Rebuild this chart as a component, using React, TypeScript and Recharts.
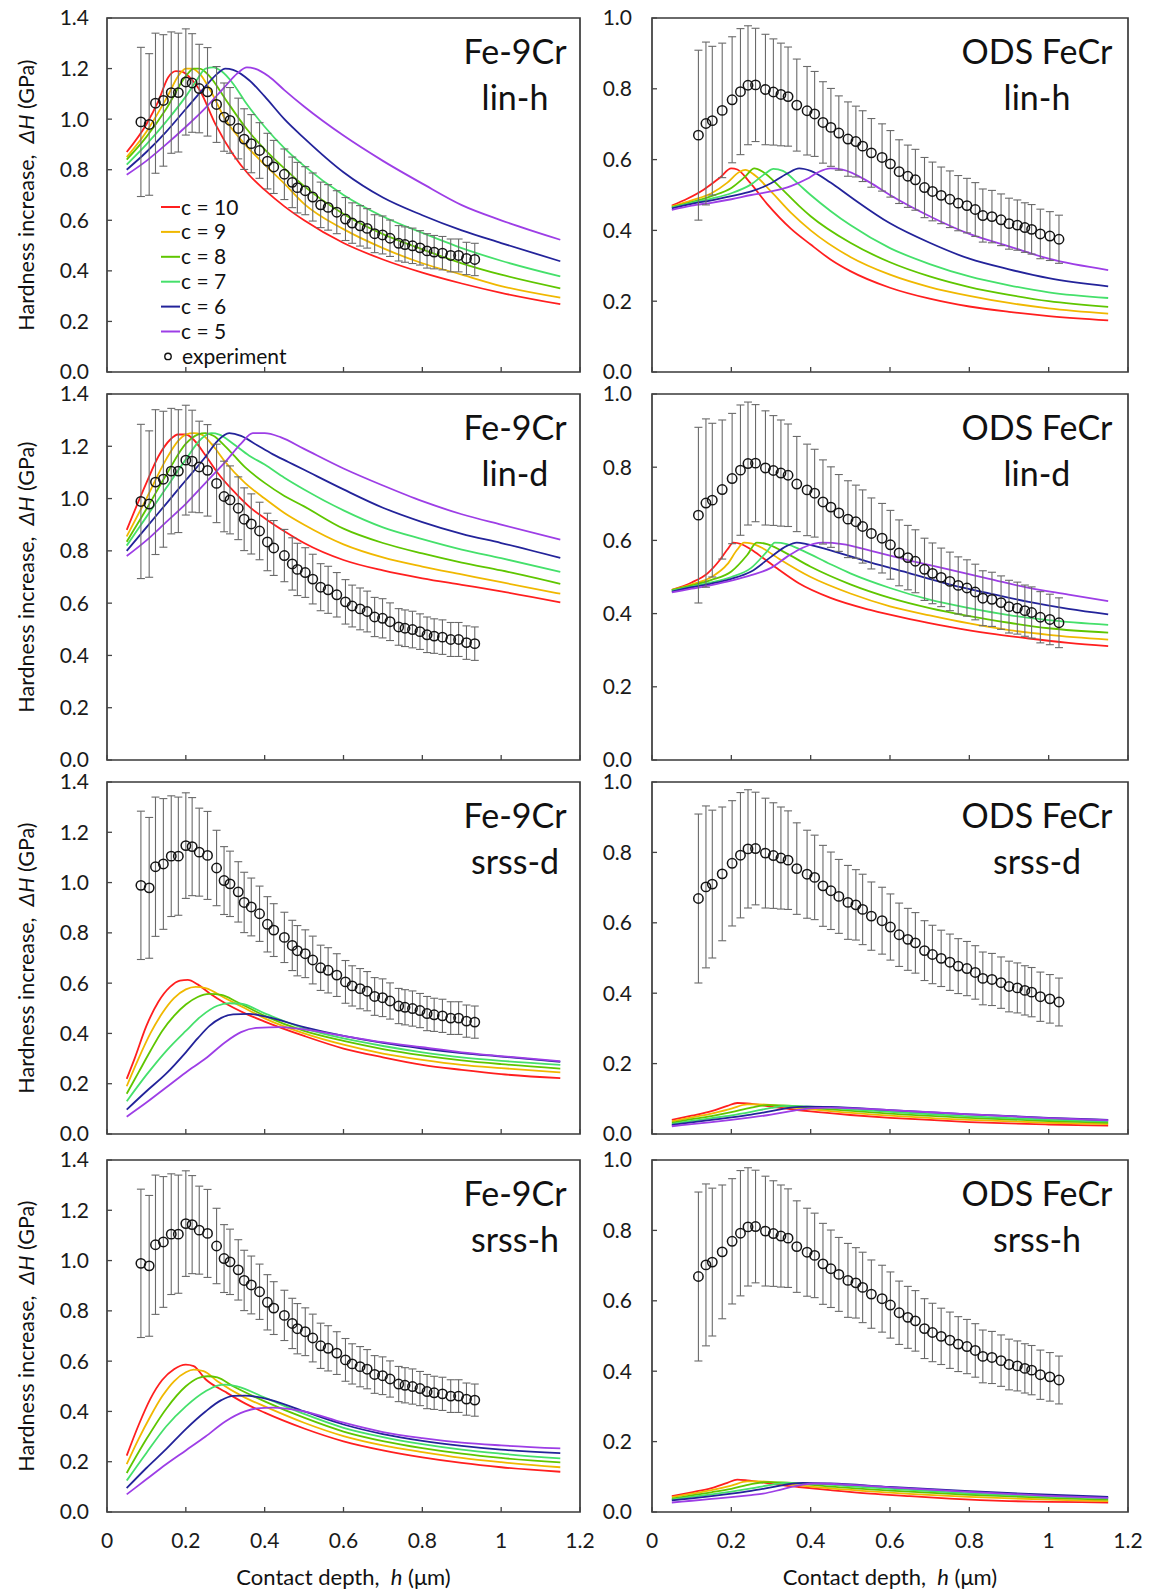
import React from 'react';
import { ComposedChart, Line, Scatter, XAxis, YAxis, ErrorBar, ReferenceArea, Legend } from 'recharts';

type Pt = [number, number];

const FONT = 'Lato, "Open Sans", sans-serif';

const X_TICKS = [0, 0.2, 0.4, 0.6, 0.8, 1, 1.2];
const Y_TICKS_FE = [0, 0.2, 0.4, 0.6, 0.8, 1.0, 1.2, 1.4];
const Y_TICKS_ODS = [0, 0.2, 0.4, 0.6, 0.8, 1.0];
const C_LABELS = ['c = 10', 'c = 9', 'c = 8', 'c = 7', 'c = 6', 'c = 5'];
const C_COLORS = ['#ff1f1f', '#f0b800', '#5fc600', '#45e06b', '#23239a', '#9d3ee6'];

// ---------- experiment: Fe-9Cr ----------
const FE_EXP_X = [0.086, 0.107, 0.123, 0.143, 0.163, 0.181, 0.2, 0.216, 0.234, 0.255, 0.278, 0.297, 0.312, 0.333, 0.348, 0.366, 0.387, 0.407, 0.423, 0.45, 0.47, 0.483, 0.503, 0.522, 0.542, 0.561, 0.583, 0.605, 0.622, 0.642, 0.66, 0.679, 0.699, 0.718, 0.74, 0.756, 0.775, 0.794, 0.812, 0.83, 0.851, 0.872, 0.892, 0.912, 0.933];
const FE_EXP_Y = [0.989, 0.979, 1.063, 1.074, 1.105, 1.105, 1.147, 1.143, 1.121, 1.108, 1.058, 1.008, 0.995, 0.963, 0.921, 0.903, 0.876, 0.834, 0.811, 0.782, 0.75, 0.729, 0.717, 0.692, 0.661, 0.651, 0.632, 0.605, 0.589, 0.578, 0.568, 0.547, 0.542, 0.529, 0.509, 0.504, 0.499, 0.491, 0.479, 0.474, 0.47, 0.461, 0.461, 0.449, 0.445];
const FE_EXP_ERR = [0.295, 0.28, 0.277, 0.26, 0.24, 0.235, 0.21, 0.195, 0.175, 0.175, 0.15, 0.135, 0.13, 0.12, 0.12, 0.115, 0.11, 0.11, 0.105, 0.1, 0.1, 0.1, 0.095, 0.095, 0.09, 0.09, 0.085, 0.085, 0.08, 0.08, 0.078, 0.075, 0.075, 0.072, 0.07, 0.07, 0.07, 0.068, 0.068, 0.066, 0.066, 0.065, 0.065, 0.064, 0.064];

// ---------- experiment: ODS FeCr ----------
const ODS_EXP_X = [0.117, 0.136, 0.152, 0.177, 0.202, 0.223, 0.242, 0.261, 0.286, 0.306, 0.325, 0.343, 0.365, 0.391, 0.41, 0.431, 0.451, 0.471, 0.494, 0.514, 0.531, 0.553, 0.58, 0.601, 0.623, 0.645, 0.664, 0.687, 0.707, 0.729, 0.751, 0.772, 0.794, 0.815, 0.834, 0.857, 0.88, 0.9, 0.921, 0.94, 0.957, 0.979, 1.003, 1.026];
const ODS_EXP_Y = [0.669, 0.702, 0.71, 0.739, 0.769, 0.792, 0.81, 0.811, 0.798, 0.791, 0.784, 0.778, 0.754, 0.738, 0.729, 0.705, 0.691, 0.675, 0.658, 0.651, 0.638, 0.619, 0.606, 0.588, 0.566, 0.553, 0.543, 0.521, 0.51, 0.499, 0.488, 0.477, 0.47, 0.459, 0.442, 0.439, 0.43, 0.419, 0.415, 0.408, 0.403, 0.39, 0.384, 0.375];
const ODS_EXP_ERR = [0.24, 0.23, 0.21, 0.19, 0.178, 0.178, 0.168, 0.16, 0.156, 0.15, 0.145, 0.14, 0.13, 0.125, 0.12, 0.115, 0.11, 0.105, 0.105, 0.1, 0.1, 0.097, 0.095, 0.094, 0.09, 0.088, 0.086, 0.085, 0.083, 0.08, 0.08, 0.078, 0.077, 0.076, 0.075, 0.074, 0.073, 0.072, 0.071, 0.07, 0.07, 0.07, 0.069, 0.068];

// ---------- model curves (c = 10, 9, 8, 7, 6, 5) ----------
const FE_LINH: Pt[][] = [
  [[0.05, 0.87], [0.1, 0.98], [0.13, 1.07], [0.155, 1.165], [0.175, 1.19], [0.19, 1.188], [0.21, 1.165], [0.235, 1.115], [0.275, 0.98], [0.32, 0.86], [0.36, 0.78], [0.4, 0.72], [0.45, 0.655], [0.5, 0.6], [0.6, 0.51], [0.7, 0.445], [0.8, 0.393], [0.9, 0.35], [1.0, 0.313], [1.15, 0.268]],
  [[0.05, 0.85], [0.1, 0.95], [0.15, 1.08], [0.185, 1.18], [0.2, 1.2], [0.215, 1.2], [0.235, 1.18], [0.26, 1.12], [0.3, 1.0], [0.35, 0.9], [0.4, 0.82], [0.45, 0.745], [0.5, 0.665], [0.6, 0.565], [0.7, 0.49], [0.8, 0.43], [0.9, 0.385], [1.0, 0.34], [1.15, 0.294]],
  [[0.05, 0.84], [0.1, 0.93], [0.15, 1.04], [0.2, 1.17], [0.22, 1.2], [0.235, 1.2], [0.26, 1.17], [0.3, 1.08], [0.35, 0.97], [0.4, 0.88], [0.45, 0.805], [0.5, 0.735], [0.6, 0.625], [0.7, 0.545], [0.8, 0.485], [0.9, 0.43], [1.0, 0.385], [1.15, 0.331]],
  [[0.05, 0.82], [0.1, 0.9], [0.15, 0.99], [0.2, 1.09], [0.23, 1.16], [0.25, 1.2], [0.27, 1.205], [0.29, 1.19], [0.32, 1.14], [0.35, 1.07], [0.4, 0.97], [0.45, 0.885], [0.5, 0.815], [0.6, 0.7], [0.7, 0.615], [0.8, 0.55], [0.9, 0.49], [1.0, 0.44], [1.15, 0.378]],
  [[0.05, 0.8], [0.1, 0.87], [0.15, 0.95], [0.2, 1.04], [0.25, 1.13], [0.28, 1.18], [0.3, 1.2], [0.32, 1.195], [0.36, 1.155], [0.4, 1.09], [0.45, 1.0], [0.5, 0.925], [0.6, 0.79], [0.7, 0.69], [0.8, 0.62], [0.9, 0.56], [1.0, 0.51], [1.15, 0.438]],
  [[0.05, 0.78], [0.1, 0.835], [0.15, 0.9], [0.2, 0.97], [0.25, 1.045], [0.3, 1.13], [0.33, 1.18], [0.355, 1.205], [0.375, 1.2], [0.41, 1.17], [0.45, 1.115], [0.5, 1.05], [0.6, 0.935], [0.7, 0.835], [0.8, 0.745], [0.9, 0.66], [1.0, 0.6], [1.15, 0.523]],
];

const FE_LIND: Pt[][] = [
  [[0.05, 0.88], [0.1, 1.06], [0.13, 1.16], [0.16, 1.225], [0.18, 1.245], [0.2, 1.245], [0.22, 1.225], [0.25, 1.165], [0.28, 1.1], [0.32, 1.03], [0.36, 0.97], [0.4, 0.925], [0.45, 0.875], [0.5, 0.83], [0.6, 0.765], [0.7, 0.725], [0.8, 0.695], [0.9, 0.67], [1.0, 0.645], [1.15, 0.603]],
  [[0.05, 0.855], [0.1, 1.0], [0.15, 1.15], [0.18, 1.22], [0.2, 1.245], [0.22, 1.25], [0.24, 1.245], [0.27, 1.2], [0.3, 1.14], [0.35, 1.06], [0.4, 1.0], [0.45, 0.945], [0.5, 0.9], [0.6, 0.825], [0.7, 0.775], [0.8, 0.74], [0.9, 0.71], [1.0, 0.68], [1.15, 0.636]],
  [[0.05, 0.835], [0.1, 0.96], [0.15, 1.09], [0.2, 1.21], [0.23, 1.245], [0.25, 1.25], [0.27, 1.24], [0.3, 1.2], [0.35, 1.12], [0.4, 1.06], [0.45, 1.01], [0.5, 0.97], [0.6, 0.885], [0.7, 0.83], [0.8, 0.79], [0.9, 0.755], [1.0, 0.725], [1.15, 0.674]],
  [[0.05, 0.82], [0.1, 0.93], [0.15, 1.04], [0.2, 1.15], [0.24, 1.23], [0.265, 1.25], [0.285, 1.245], [0.32, 1.21], [0.36, 1.165], [0.4, 1.13], [0.45, 1.08], [0.5, 1.035], [0.6, 0.955], [0.7, 0.89], [0.8, 0.845], [0.9, 0.805], [1.0, 0.772], [1.15, 0.72]],
  [[0.05, 0.8], [0.1, 0.89], [0.15, 0.98], [0.2, 1.07], [0.25, 1.16], [0.28, 1.22], [0.31, 1.25], [0.34, 1.24], [0.38, 1.205], [0.42, 1.17], [0.46, 1.14], [0.5, 1.11], [0.6, 1.035], [0.7, 0.965], [0.8, 0.91], [0.9, 0.865], [1.0, 0.83], [1.15, 0.773]],
  [[0.05, 0.78], [0.1, 0.84], [0.15, 0.91], [0.2, 0.98], [0.25, 1.06], [0.3, 1.14], [0.34, 1.21], [0.37, 1.25], [0.4, 1.25], [0.44, 1.235], [0.5, 1.19], [0.6, 1.115], [0.7, 1.05], [0.8, 0.99], [0.9, 0.94], [1.0, 0.9], [1.15, 0.843]],
];

const FE_SRSSD: Pt[][] = [
  [[0.05, 0.219], [0.07, 0.3], [0.1, 0.43], [0.13, 0.525], [0.16, 0.585], [0.185, 0.61], [0.205, 0.613], [0.23, 0.595], [0.26, 0.56], [0.3, 0.52], [0.35, 0.48], [0.4, 0.447], [0.5, 0.39], [0.6, 0.34], [0.7, 0.305], [0.8, 0.275], [0.9, 0.255], [1.0, 0.238], [1.15, 0.222]],
  [[0.05, 0.19], [0.08, 0.3], [0.11, 0.4], [0.14, 0.48], [0.17, 0.54], [0.2, 0.575], [0.225, 0.585], [0.25, 0.58], [0.3, 0.54], [0.35, 0.5], [0.4, 0.46], [0.5, 0.4], [0.6, 0.355], [0.7, 0.32], [0.8, 0.295], [0.9, 0.275], [1.0, 0.262], [1.15, 0.245]],
  [[0.05, 0.16], [0.08, 0.245], [0.11, 0.33], [0.14, 0.41], [0.17, 0.47], [0.2, 0.515], [0.23, 0.545], [0.26, 0.557], [0.29, 0.553], [0.33, 0.525], [0.4, 0.47], [0.5, 0.41], [0.6, 0.37], [0.7, 0.338], [0.8, 0.313], [0.9, 0.293], [1.0, 0.278], [1.15, 0.26]],
  [[0.05, 0.13], [0.1, 0.235], [0.15, 0.33], [0.2, 0.41], [0.24, 0.47], [0.28, 0.51], [0.31, 0.52], [0.34, 0.518], [0.4, 0.48], [0.5, 0.42], [0.6, 0.38], [0.7, 0.35], [0.8, 0.325], [0.9, 0.305], [1.0, 0.291], [1.15, 0.275]],
  [[0.05, 0.097], [0.1, 0.17], [0.15, 0.24], [0.2, 0.325], [0.23, 0.38], [0.26, 0.43], [0.29, 0.462], [0.32, 0.476], [0.36, 0.478], [0.4, 0.468], [0.5, 0.425], [0.6, 0.39], [0.7, 0.362], [0.8, 0.34], [0.9, 0.322], [1.0, 0.308], [1.15, 0.287]],
  [[0.05, 0.069], [0.1, 0.125], [0.15, 0.185], [0.2, 0.245], [0.25, 0.3], [0.3, 0.365], [0.34, 0.405], [0.38, 0.422], [0.44, 0.425], [0.48, 0.42], [0.6, 0.39], [0.7, 0.365], [0.8, 0.345], [0.9, 0.325], [1.0, 0.31], [1.15, 0.29]],
];

const FE_SRSSH: Pt[][] = [
  [[0.05, 0.224], [0.08, 0.345], [0.11, 0.45], [0.14, 0.525], [0.17, 0.568], [0.2, 0.586], [0.22, 0.58], [0.25, 0.528], [0.3, 0.478], [0.35, 0.432], [0.4, 0.395], [0.5, 0.332], [0.6, 0.281], [0.7, 0.245], [0.8, 0.217], [0.9, 0.195], [1.0, 0.178], [1.15, 0.16]],
  [[0.05, 0.19], [0.08, 0.29], [0.11, 0.38], [0.14, 0.46], [0.17, 0.52], [0.2, 0.556], [0.22, 0.566], [0.245, 0.56], [0.28, 0.52], [0.35, 0.455], [0.4, 0.42], [0.5, 0.355], [0.6, 0.302], [0.7, 0.265], [0.8, 0.238], [0.9, 0.215], [1.0, 0.198], [1.15, 0.178]],
  [[0.05, 0.155], [0.1, 0.29], [0.15, 0.41], [0.2, 0.5], [0.23, 0.532], [0.255, 0.54], [0.28, 0.535], [0.32, 0.5], [0.4, 0.44], [0.5, 0.375], [0.6, 0.32], [0.7, 0.282], [0.8, 0.254], [0.9, 0.232], [1.0, 0.215], [1.15, 0.197]],
  [[0.05, 0.125], [0.1, 0.235], [0.15, 0.34], [0.2, 0.42], [0.25, 0.48], [0.28, 0.503], [0.3, 0.507], [0.33, 0.5], [0.4, 0.455], [0.5, 0.39], [0.6, 0.335], [0.7, 0.298], [0.8, 0.27], [0.9, 0.248], [1.0, 0.232], [1.15, 0.213]],
  [[0.05, 0.095], [0.1, 0.175], [0.15, 0.25], [0.2, 0.33], [0.25, 0.4], [0.29, 0.445], [0.32, 0.462], [0.35, 0.463], [0.4, 0.452], [0.5, 0.4], [0.6, 0.348], [0.7, 0.31], [0.8, 0.283], [0.9, 0.263], [1.0, 0.248], [1.15, 0.234]],
  [[0.05, 0.07], [0.1, 0.13], [0.15, 0.19], [0.2, 0.245], [0.25, 0.3], [0.3, 0.36], [0.35, 0.4], [0.38, 0.412], [0.42, 0.415], [0.46, 0.41], [0.5, 0.4], [0.6, 0.355], [0.7, 0.318], [0.8, 0.294], [0.9, 0.276], [1.0, 0.265], [1.15, 0.253]],
];

const ODS_LINH: Pt[][] = [
  [[0.05, 0.47], [0.09, 0.49], [0.13, 0.515], [0.17, 0.548], [0.2, 0.575], [0.215, 0.572], [0.245, 0.538], [0.29, 0.475], [0.35, 0.405], [0.4, 0.36], [0.45, 0.318], [0.5, 0.285], [0.6, 0.238], [0.7, 0.207], [0.8, 0.185], [0.9, 0.17], [1.0, 0.158], [1.15, 0.146]],
  [[0.05, 0.468], [0.1, 0.485], [0.15, 0.505], [0.19, 0.535], [0.22, 0.565], [0.235, 0.571], [0.26, 0.555], [0.3, 0.51], [0.35, 0.45], [0.4, 0.4], [0.5, 0.325], [0.6, 0.275], [0.7, 0.24], [0.8, 0.215], [0.9, 0.195], [1.0, 0.18], [1.15, 0.165]],
  [[0.05, 0.466], [0.1, 0.48], [0.15, 0.497], [0.2, 0.52], [0.235, 0.552], [0.258, 0.575], [0.28, 0.565], [0.32, 0.525], [0.37, 0.47], [0.4, 0.44], [0.5, 0.365], [0.6, 0.31], [0.7, 0.27], [0.8, 0.24], [0.9, 0.218], [1.0, 0.2], [1.15, 0.184]],
  [[0.05, 0.464], [0.1, 0.478], [0.15, 0.49], [0.2, 0.505], [0.25, 0.53], [0.285, 0.56], [0.306, 0.574], [0.33, 0.568], [0.37, 0.53], [0.4, 0.5], [0.45, 0.455], [0.5, 0.415], [0.6, 0.35], [0.7, 0.305], [0.8, 0.27], [0.9, 0.245], [1.0, 0.225], [1.15, 0.209]],
  [[0.05, 0.462], [0.1, 0.475], [0.15, 0.485], [0.2, 0.497], [0.25, 0.51], [0.3, 0.533], [0.34, 0.56], [0.371, 0.575], [0.4, 0.568], [0.45, 0.535], [0.5, 0.495], [0.6, 0.42], [0.7, 0.365], [0.8, 0.32], [0.9, 0.29], [1.0, 0.265], [1.15, 0.242]],
  [[0.05, 0.458], [0.1, 0.47], [0.15, 0.478], [0.2, 0.488], [0.25, 0.5], [0.3, 0.51], [0.35, 0.525], [0.39, 0.545], [0.42, 0.565], [0.45, 0.575], [0.48, 0.572], [0.55, 0.535], [0.6, 0.5], [0.7, 0.44], [0.8, 0.39], [0.9, 0.355], [1.0, 0.32], [1.15, 0.288]],
];

const ODS_LIND: Pt[][] = [
  [[0.05, 0.465], [0.1, 0.485], [0.14, 0.51], [0.17, 0.545], [0.19, 0.575], [0.205, 0.594], [0.225, 0.59], [0.25, 0.575], [0.28, 0.552], [0.32, 0.52], [0.37, 0.483], [0.45, 0.443], [0.55, 0.41], [0.65, 0.385], [0.75, 0.364], [0.85, 0.346], [0.95, 0.332], [1.05, 0.32], [1.15, 0.311]],
  [[0.05, 0.465], [0.1, 0.48], [0.15, 0.5], [0.19, 0.535], [0.215, 0.575], [0.232, 0.594], [0.25, 0.592], [0.28, 0.578], [0.32, 0.55], [0.4, 0.5], [0.5, 0.455], [0.6, 0.42], [0.7, 0.395], [0.8, 0.373], [0.9, 0.355], [1.0, 0.342], [1.15, 0.329]],
  [[0.05, 0.464], [0.1, 0.477], [0.15, 0.492], [0.2, 0.515], [0.24, 0.56], [0.264, 0.594], [0.29, 0.59], [0.33, 0.57], [0.4, 0.528], [0.5, 0.48], [0.6, 0.443], [0.7, 0.415], [0.8, 0.393], [0.9, 0.375], [1.0, 0.36], [1.15, 0.348]],
  [[0.05, 0.462], [0.1, 0.474], [0.15, 0.485], [0.2, 0.5], [0.25, 0.525], [0.29, 0.57], [0.31, 0.594], [0.34, 0.59], [0.38, 0.572], [0.45, 0.535], [0.5, 0.51], [0.6, 0.47], [0.7, 0.438], [0.8, 0.415], [0.9, 0.396], [1.0, 0.382], [1.15, 0.369]],
  [[0.05, 0.46], [0.1, 0.472], [0.15, 0.482], [0.2, 0.495], [0.25, 0.515], [0.3, 0.555], [0.34, 0.585], [0.365, 0.594], [0.39, 0.59], [0.45, 0.573], [0.55, 0.54], [0.65, 0.51], [0.75, 0.48], [0.85, 0.455], [0.95, 0.432], [1.05, 0.413], [1.15, 0.398]],
  [[0.05, 0.458], [0.1, 0.468], [0.15, 0.478], [0.2, 0.49], [0.25, 0.505], [0.3, 0.525], [0.34, 0.555], [0.38, 0.58], [0.43, 0.594], [0.48, 0.59], [0.55, 0.572], [0.65, 0.545], [0.75, 0.52], [0.85, 0.495], [0.95, 0.47], [1.05, 0.452], [1.15, 0.434]],
];

const ODS_SRSSD: Pt[][] = [
  [[0.05, 0.04], [0.1, 0.052], [0.15, 0.065], [0.19, 0.08], [0.215, 0.088], [0.24, 0.087], [0.3, 0.078], [0.4, 0.064], [0.5, 0.054], [0.6, 0.046], [0.7, 0.04], [0.8, 0.034], [0.9, 0.03], [1.0, 0.027], [1.15, 0.024]],
  [[0.05, 0.036], [0.1, 0.047], [0.15, 0.058], [0.2, 0.072], [0.24, 0.084], [0.27, 0.084], [0.35, 0.076], [0.45, 0.065], [0.6, 0.052], [0.8, 0.04], [1.0, 0.032], [1.15, 0.028]],
  [[0.05, 0.032], [0.1, 0.042], [0.15, 0.051], [0.2, 0.062], [0.25, 0.075], [0.29, 0.082], [0.33, 0.081], [0.45, 0.07], [0.6, 0.058], [0.8, 0.046], [1.0, 0.037], [1.15, 0.032]],
  [[0.05, 0.029], [0.1, 0.037], [0.15, 0.045], [0.2, 0.053], [0.25, 0.063], [0.3, 0.074], [0.34, 0.08], [0.4, 0.078], [0.5, 0.07], [0.6, 0.063], [0.8, 0.05], [1.0, 0.041], [1.15, 0.036]],
  [[0.05, 0.026], [0.1, 0.033], [0.15, 0.04], [0.2, 0.047], [0.25, 0.055], [0.3, 0.065], [0.35, 0.075], [0.39, 0.078], [0.45, 0.077], [0.6, 0.068], [0.8, 0.056], [1.0, 0.046], [1.15, 0.04]],
  [[0.05, 0.022], [0.1, 0.028], [0.15, 0.034], [0.2, 0.04], [0.25, 0.047], [0.3, 0.055], [0.35, 0.065], [0.4, 0.073], [0.45, 0.075], [0.6, 0.068], [0.8, 0.056], [1.0, 0.045], [1.15, 0.039]],
];

const ODS_SRSSH: Pt[][] = [
  [[0.05, 0.045], [0.1, 0.056], [0.15, 0.068], [0.19, 0.083], [0.215, 0.092], [0.24, 0.09], [0.3, 0.08], [0.37, 0.071], [0.45, 0.062], [0.55, 0.052], [0.65, 0.045], [0.75, 0.038], [0.9, 0.031], [1.0, 0.029], [1.15, 0.027]],
  [[0.05, 0.042], [0.1, 0.052], [0.15, 0.062], [0.2, 0.075], [0.24, 0.087], [0.27, 0.087], [0.35, 0.078], [0.45, 0.067], [0.6, 0.055], [0.8, 0.043], [1.0, 0.035], [1.15, 0.031]],
  [[0.05, 0.038], [0.1, 0.047], [0.15, 0.056], [0.2, 0.066], [0.25, 0.079], [0.29, 0.085], [0.33, 0.084], [0.45, 0.072], [0.6, 0.061], [0.8, 0.049], [1.0, 0.04], [1.15, 0.035]],
  [[0.05, 0.035], [0.1, 0.043], [0.15, 0.05], [0.2, 0.058], [0.25, 0.067], [0.3, 0.077], [0.34, 0.083], [0.4, 0.081], [0.5, 0.073], [0.6, 0.066], [0.8, 0.053], [1.0, 0.044], [1.15, 0.039]],
  [[0.05, 0.033], [0.1, 0.039], [0.15, 0.045], [0.2, 0.052], [0.25, 0.06], [0.3, 0.07], [0.35, 0.08], [0.38, 0.083], [0.45, 0.081], [0.6, 0.071], [0.8, 0.059], [1.0, 0.049], [1.15, 0.043]],
  [[0.05, 0.027], [0.1, 0.032], [0.15, 0.037], [0.2, 0.042], [0.25, 0.048], [0.28, 0.052], [0.33, 0.065], [0.38, 0.078], [0.41, 0.081], [0.5, 0.077], [0.6, 0.07], [0.8, 0.057], [1.0, 0.046], [1.15, 0.04]],
];

// ---------- layout ----------
const ROW_TOP = [18, 394, 782, 1160];
const ROW_BOTTOM = [372, 760, 1134, 1512];
const COL_TITLE_X = [515, 1037];
const SUB_TITLES = ['lin-h', 'lin-d', 'srss-d', 'srss-h'];
const TOP_PAD = 16;

const toPts = (a: Pt[]) => a.map(([x, y]) => ({ x, y }));
const expData = (xs: number[], ys: number[], es: number[]) => xs.map((x, i) => ({ x, y: ys[i], err: es[i] }));
const FE_EXP = expData(FE_EXP_X, FE_EXP_Y, FE_EXP_ERR);
const ODS_EXP = expData(ODS_EXP_X, ODS_EXP_Y, ODS_EXP_ERR);

const ExpCircle = (props: any) => (
  <circle cx={props.cx} cy={props.cy} r={4.7} fill="none" stroke="#141414" strokeWidth={1.5} />
);
const EmptyTick = () => <g />;

const LegendBox = () => (
  <svg width={150} height={180} style={{ overflow: 'visible' }}>
    {C_LABELS.map((l, i) => (
      <g key={l}>
        <line x1={1} x2={20} y1={10 + i * 24.9} y2={10 + i * 24.9} stroke={C_COLORS[i]} strokeWidth={2} />
        <text x={21} y={10 + i * 24.9 + 7.5} fontSize={21} fontFamily={FONT} fill="#111">{l}</text>
      </g>
    ))}
    <circle cx={8} cy={10 + 6 * 24.9} r={3.2} fill="none" stroke="#111" strokeWidth={1.4} />
    <text x={22} y={10 + 6 * 24.9 + 7.5} fontSize={21} fontFamily={FONT} fill="#111">experiment</text>
  </svg>
);

type PanelProps = { row: number; col: number; curves: Pt[][]; legend?: boolean };

function Panel({ row, col, curves, legend }: PanelProps) {
  const isLeft = col === 0;
  const width = isLeft ? 600 : 551;
  const yW = isLeft ? 107 : 52;
  const mr = isLeft ? 20 : 23;
  const showX = row === 3;
  const xH = showX ? 52 : 16;
  const plotH = ROW_BOTTOM[row] - ROW_TOP[row];
  const height = TOP_PAD + plotH + xH;
  const yMax = isLeft ? 1.4 : 1.0;
  const yTicks = isLeft ? Y_TICKS_FE : Y_TICKS_ODS;
  const exp = isLeft ? FE_EXP : ODS_EXP;
  return (
    <div style={{ position: 'absolute', left: isLeft ? 0 : 600, top: ROW_TOP[row] - TOP_PAD, width, height }}>
      <ComposedChart width={width} height={height} margin={{ top: TOP_PAD, right: mr, left: 0, bottom: 0 }}>
        <XAxis
          type="number"
          dataKey="x"
          domain={[0, 1.2]}
          ticks={X_TICKS}
          interval={0}
          allowDataOverflow
          axisLine={false}
          tickLine={{ stroke: '#444', strokeWidth: 1.3 }}
          tickSize={-5}
          tickMargin={26}
          height={xH}
          tick={showX ? { fill: '#1a1a1a', fontSize: 21, fontFamily: FONT } : EmptyTick}
        />
        <YAxis
          type="number"
          dataKey="y"
          domain={[0, yMax]}
          ticks={yTicks}
          interval={0}
          allowDataOverflow
          axisLine={false}
          tickLine={{ stroke: '#444', strokeWidth: 1.3 }}
          tickSize={-5}
          tickMargin={isLeft ? 23 : 25}
          width={yW}
          tickFormatter={(v: number) => v.toFixed(1)}
          tick={{ fill: '#1a1a1a', fontSize: 21, fontFamily: FONT }}
        />
        {curves.map((c, i) => (
          <Line
            key={i}
            data={toPts(c)}
            dataKey="y"
            type="monotone"
            stroke={C_COLORS[i]}
            strokeWidth={1.8}
            dot={false}
            activeDot={false}
            isAnimationActive={false}
          />
        ))}
        <Scatter data={exp} dataKey="y" shape={ExpCircle} isAnimationActive={false}>
          <ErrorBar dataKey="err" direction="y" width={4} stroke="#6a6a6a" strokeWidth={1.1} />
        </Scatter>
        <ReferenceArea x1={0} x2={1.2} y1={0} y2={yMax} fill="none" stroke="#3a3a3a" strokeWidth={1.7} ifOverflow="visible" />
        {legend && (
          <Legend
            layout="vertical"
            align="center"
            verticalAlign="middle"
            content={() => <LegendBox />}
            wrapperStyle={{ left: 160, top: 207.3 - (ROW_TOP[0] - TOP_PAD) - 10, width: 150, height: 180 }}
          />
        )}
      </ComposedChart>
    </div>
  );
}

export default function App() {
  const leftCurves = [FE_LINH, FE_LIND, FE_SRSSD, FE_SRSSH];
  const rightCurves = [ODS_LINH, ODS_LIND, ODS_SRSSD, ODS_SRSSH];
  return (
    <div style={{ position: 'absolute', left: 0, top: 0, width: 1151, height: 1590, background: '#fff', fontFamily: FONT }}>
      {[0, 1, 2, 3].map((r) => (
        <React.Fragment key={r}>
          <Panel row={r} col={0} curves={leftCurves[r]} legend={r === 0} />
          <Panel row={r} col={1} curves={rightCurves[r]} />
        </React.Fragment>
      ))}
      <svg width={1151} height={1590} style={{ position: 'absolute', left: 0, top: 0, pointerEvents: 'none' }}>
        {[0, 1, 2, 3].map((r) => (
          <g key={r} fontFamily={FONT} fill="#111">
            <text x={COL_TITLE_X[0]} y={ROW_TOP[r] + 46} fontSize={34} textAnchor="middle">Fe-9Cr</text>
            <text x={COL_TITLE_X[0]} y={ROW_TOP[r] + 92} fontSize={34} textAnchor="middle">{SUB_TITLES[r]}</text>
            <text x={COL_TITLE_X[1]} y={ROW_TOP[r] + 46} fontSize={34} textAnchor="middle">ODS FeCr</text>
            <text x={COL_TITLE_X[1]} y={ROW_TOP[r] + 92} fontSize={34} textAnchor="middle">{SUB_TITLES[r]}</text>
            <text
              transform={`translate(26, ${(ROW_TOP[r] + ROW_BOTTOM[r]) / 2}) rotate(-90)`}
              fontSize={21.5}
              textAnchor="middle"
              dominantBaseline="central"
              style={{ whiteSpace: 'pre' }}
            >
              Hardness increase,  <tspan fontStyle="italic">ΔH</tspan> (GPa)
            </text>
          </g>
        ))}
        <text x={343.5} y={1585} fontSize={22} fontFamily={FONT} fill="#111" textAnchor="middle" style={{ whiteSpace: 'pre' }}>
          Contact depth,  <tspan fontStyle="italic">h</tspan> (μm)
        </text>
        <text x={890} y={1585} fontSize={22} fontFamily={FONT} fill="#111" textAnchor="middle" style={{ whiteSpace: 'pre' }}>
          Contact depth,  <tspan fontStyle="italic">h</tspan> (μm)
        </text>
      </svg>
    </div>
  );
}
